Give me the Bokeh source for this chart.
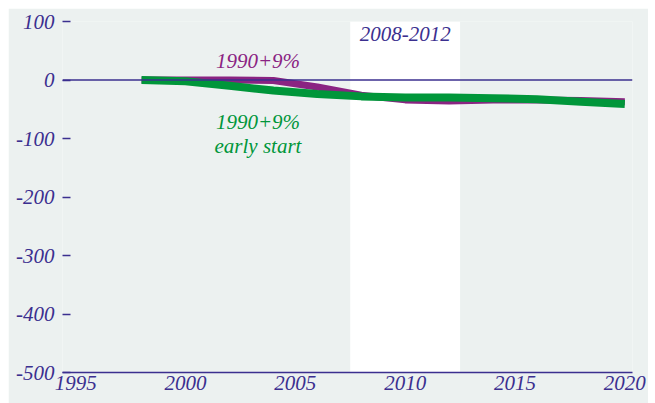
from bokeh.plotting import figure
from bokeh.models import BoxAnnotation, Span, FixedTicker, Label
from bokeh.embed import file_html
from bokeh.resources import INLINE

# Data
years = [1998, 2000, 2002, 2004, 2006, 2008, 2010, 2012, 2014, 2016, 2018, 2020]
base_1990_9 = [0, 0, 0, -1, -12, -26, -34, -36, -34, -34, -35, -37]
early_start = [0, -2, -10, -18, -24, -28, -30, -30, -31, -33, -37, -41]
x_ticks = [1995, 2000, 2005, 2010, 2015, 2020]
y_ticks = [-500, -400, -300, -200, -100, 0, 100]
y_tick_labels = {v: str(v) for v in y_ticks}
band = (2007.5, 2012.5)

BG = "#ecf1f0"
INK = "#3b2f8f"
PURPLE = "#8a2382"
GREEN = "#00963a"
FONT = "Liberation Serif"

p = figure(width=640, height=395, output_backend="svg", toolbar_location=None,
           x_range=(1994.4, 2020.35), y_range=(-500, 100),
           min_border_left=54, min_border_right=16, min_border_top=13, min_border_bottom=31)
p.margin = (8, 0, 0, 8)
p.background_fill_color = BG
p.border_fill_color = BG
p.outline_line_color = None
p.grid.grid_line_color = None

p.add_layout(BoxAnnotation(left=band[0], right=band[1], fill_color="white",
                           fill_alpha=1.0, line_color=None, level="underlay"))
p.add_layout(Span(location=0, dimension="width", line_color=INK, line_width=1.5))

p.line(years, base_1990_9, line_color=PURPLE, line_width=7)
p.line(years, early_start, line_color=GREEN, line_width=8)

# axes
p.xaxis.ticker = FixedTicker(ticks=x_ticks)
p.xaxis.axis_line_color = INK
p.xaxis.axis_line_width = 1.5
p.xaxis.major_tick_out = 0
p.xaxis.major_tick_in = 0
p.xaxis.minor_tick_line_color = None
p.xaxis.major_label_standoff = 3

p.yaxis.ticker = FixedTicker(ticks=y_ticks)
p.yaxis.major_label_overrides = y_tick_labels
p.yaxis.axis_line_color = None
p.yaxis.major_tick_out = 0
p.yaxis.major_tick_in = 8
p.yaxis.major_tick_line_color = INK
p.yaxis.major_tick_line_width = 1.5
p.yaxis.minor_tick_line_color = None
p.yaxis.major_label_standoff = 8

for ax in (p.xaxis, p.yaxis):
    ax.major_label_text_font = FONT
    ax.major_label_text_font_style = "italic"
    ax.major_label_text_font_size = "21px"
    ax.major_label_text_color = INK

def lab(x, y, t, c):
    p.add_layout(Label(x=x, y=y, text=t, text_color=c, text_font=FONT,
                       text_font_style="italic", text_font_size="21px",
                       text_align="center", text_baseline="middle"))

lab(2010, 79, "2008-2012", INK)
lab(2003.3, 33, "1990+9%", PURPLE)
lab(2003.3, -72, "1990+9%", GREEN)
lab(2003.3, -113, "early start", GREEN)

open("out.html", "w").write(file_html(p, INLINE))
